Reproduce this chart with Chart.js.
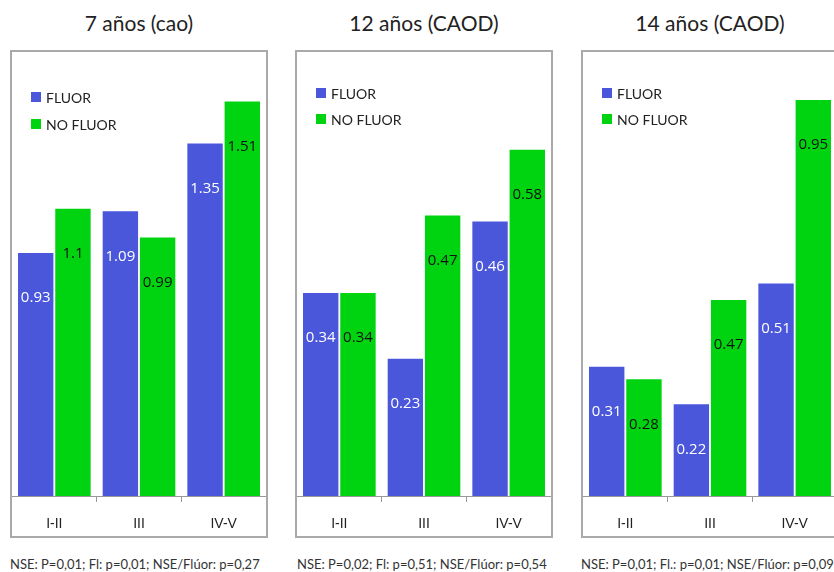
<!DOCTYPE html>
<html>
<head>
<meta charset="utf-8">
<script src="https://cdn.jsdelivr.net/npm/chart.js@4.4.1/dist/chart.umd.min.js"></script>
<style>
  body { margin: 0; background: #fff; width: 834px; height: 572px; overflow: hidden; position: relative; }
  .title { position: absolute; top: 10px; width: 258px; text-align: center; font: 21px Lato, sans-serif; color: #222; }
  .box { position: absolute; top: 50px; width: 258px; height: 488px; border: 2px solid #a9a9a9; box-sizing: border-box; }
  .box canvas { display: block; }
  .note { position: absolute; top: 556px; font: 13px Lato, sans-serif; color: #333; white-space: nowrap; }
</style>
</head>
<body>
<div class="title" style="left:10px">7 años (cao)</div>
<div class="title" style="left:295px">12 años (CAOD)</div>
<div class="title" style="left:581px">14 años (CAOD)</div>

<div class="box" style="left:10px"><canvas id="c1" width="254" height="484"></canvas></div>
<div class="box" style="left:295px"><canvas id="c2" width="254" height="484"></canvas></div>
<div class="box" style="left:581px"><canvas id="c3" width="254" height="484"></canvas></div>

<div class="note" style="left:10px">NSE: P=0,01; Fl: p=0,01; NSE/Flúor: p=0,27</div>
<div class="note" style="left:297px">NSE: P=0,02; Fl: p=0,51; NSE/Flúor: p=0,54</div>
<div class="note" style="left:581px">NSE: P=0,01; Fl.: p=0,01; NSE/Flúor: p=0,09</div>

<script>
// categories (nivel socioeconómico)
const categories = ["I-II", "III", "IV-V"];
const seriesNames = ["FLUOR", "NO FLUOR"];

// 7 años (cao)
const fluor7 = [0.93, 1.09, 1.35];
const noFluor7 = [1.1, 0.99, 1.51];
// 12 años (CAOD)
const fluor12 = [0.34, 0.23, 0.46];
const noFluor12 = [0.34, 0.47, 0.58];
// 14 años (CAOD)
const fluor14 = [0.31, 0.22, 0.51];
const noFluor14 = [0.28, 0.47, 0.95];

const blue = "#4a57db";
const green = "#00d30f";

// labels inside the bars, a bit under the top
const barLabels = {
    id: "barLabels",
    afterDatasetsDraw(chart) {
        const ctx = chart.ctx;
        ctx.save();
        ctx.font = "15px 'Open Sans', sans-serif";
        ctx.textAlign = "center";
        ctx.textBaseline = "middle";
        chart.data.datasets.forEach((ds, i) => {
            chart.getDatasetMeta(i).data.forEach((bar, j) => {
                ctx.fillStyle = i === 0 ? "#ffffff" : "#111111";
                ctx.fillText(String(ds.data[j]), bar.x, bar.y + 45);
            });
        });
        ctx.restore();
    }
};

// legend drawn inside the plot box
const boxLegend = {
    id: "boxLegend",
    afterDraw(chart, args, opts) {
        const ctx = chart.ctx;
        ctx.save();
        ctx.font = "14px Lato, sans-serif";
        ctx.textBaseline = "middle";
        chart.data.datasets.forEach((ds, i) => {
            const y = opts.y + i * opts.gap;
            ctx.fillStyle = ds.backgroundColor;
            ctx.fillRect(opts.x, y - 5, 10, 10);
            ctx.fillStyle = "#222";
            ctx.fillText(ds.label, opts.x + 15, y + 1);
        });
        ctx.restore();
    }
};

function makeChart(id, fluor, noFluor, yMax, legendY, legendGap) {
    return new Chart(document.getElementById(id), {
        type: "bar",
        data: {
            labels: categories,
            datasets: [
                { label: seriesNames[0], data: fluor, backgroundColor: blue },
                { label: seriesNames[1], data: noFluor, backgroundColor: green }
            ]
        },
        options: {
            responsive: false,
            animation: false,
            categoryPercentage: 0.88,
            barPercentage: 0.95,
            layout: { padding: 0 },
            plugins: {
                legend: { display: false },
                tooltip: { enabled: false },
                boxLegend: { x: 19, y: legendY, gap: legendGap }
            },
            scales: {
                x: {
                    grid: { drawOnChartArea: false, drawTicks: true, tickLength: 6, color: "#999", offset: true },
                    border: { display: true, color: "#999", width: 1 },
                    ticks: { color: "#222", padding: 14, font: { family: "'Liberation Sans Narrow', 'Arial Narrow', sans-serif", size: 14 } },
                    afterFit: (s) => { s.height = 40; }
                },
                y: { display: false, min: 0, max: yMax }
            }
        },
        plugins: [barLabels, boxLegend]
    });
}

makeChart("c1", fluor7, noFluor7, 1.70, 45, 27);
makeChart("c2", fluor12, noFluor12, 0.744, 41, 26);
makeChart("c3", fluor14, noFluor14, 1.065, 41, 26);
</script>
</body>
</html>
